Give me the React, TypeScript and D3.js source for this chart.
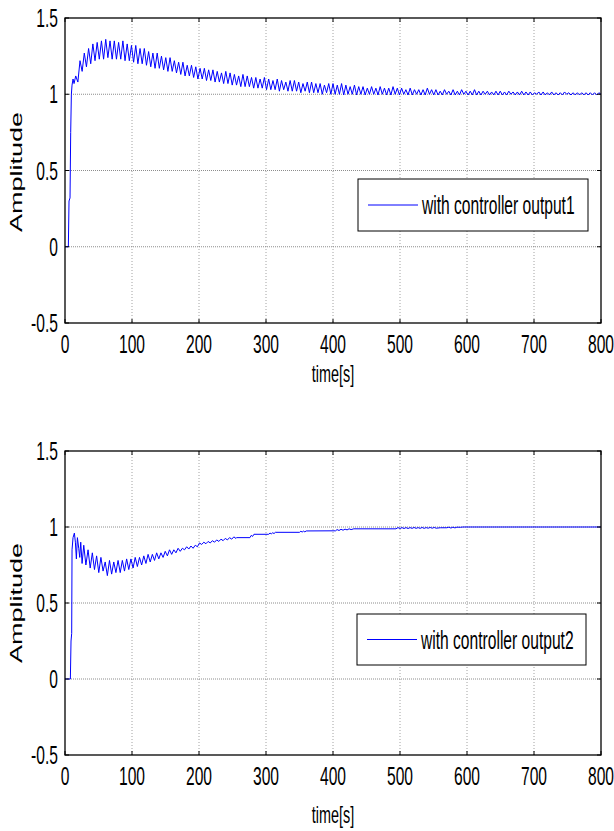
import { useEffect, useRef } from "react";
import * as d3 from "d3";

// axis ticks
const xTicks = [0, 100, 200, 300, 400, 500, 600, 700, 800];
const yTicks = [-0.5, 0, 0.5, 1, 1.5];

// output1: lead-in samples [t, amplitude]
const out1Start = [
  [0, 0], [5, 0], [6, 0.3], [7.5, 0.32], [8.5, 0.75], [9.5, 1.0],
  [10.5, 1.06], [12, 1.1], [13.5, 1.07],
];
// output1: oscillation, one peak + one trough per cycle
const out1T0 = 16;
const out1Period = 6.4;
const out1Peaks = [
  1.12, 1.22, 1.27, 1.3, 1.33, 1.34, 1.35, 1.36, 1.35, 1.35,
  1.34, 1.35, 1.33, 1.32, 1.32, 1.3, 1.3, 1.28, 1.27, 1.27,
  1.25, 1.24, 1.24, 1.22, 1.21, 1.21, 1.19, 1.19, 1.18, 1.17,
  1.17, 1.16, 1.16, 1.15, 1.14, 1.15, 1.14, 1.13, 1.12, 1.13,
  1.12, 1.11, 1.11, 1.1, 1.11, 1.1, 1.09, 1.1, 1.09, 1.08,
  1.09, 1.09, 1.08, 1.07, 1.08, 1.08, 1.07, 1.07, 1.06, 1.07,
  1.07, 1.06, 1.07, 1.06, 1.05, 1.06, 1.05, 1.05, 1.04, 1.05,
  1.04, 1.05, 1.04, 1.04, 1.05, 1.04, 1.04, 1.03, 1.04, 1.03,
  1.03, 1.03, 1.04, 1.03, 1.03, 1.02, 1.03, 1.02, 1.03, 1.02,
  1.03, 1.02, 1.02, 1.03, 1.02, 1.02, 1.02, 1.015, 1.02, 1.02,
  1.015, 1.02, 1.015, 1.015, 1.02, 1.015, 1.015, 1.01, 1.015, 1.015,
  1.01, 1.015, 1.01, 1.01, 1.015, 1.01, 1.01, 1.01, 1.01, 1.01,
  1.01, 1.01, 1.01,
];
const out1Troughs = [
  1.08, 1.15, 1.18, 1.2, 1.22, 1.23, 1.23, 1.24, 1.23, 1.23,
  1.23, 1.22, 1.22, 1.21, 1.2, 1.2, 1.19, 1.18, 1.17, 1.17,
  1.16, 1.15, 1.15, 1.14, 1.13, 1.12, 1.12, 1.11, 1.1, 1.1,
  1.09, 1.09, 1.08, 1.08, 1.07, 1.07, 1.06, 1.06, 1.05, 1.05,
  1.05, 1.04, 1.04, 1.04, 1.03, 1.03, 1.03, 1.02, 1.03, 1.02,
  1.02, 1.02, 1.01, 1.02, 1.01, 1.01, 1.01, 1.0, 1.01, 1.0,
  1.0, 1.0, 0.995, 1.0, 1.0, 0.995, 1.0, 0.995, 1.0, 1.0,
  0.995, 1.0, 0.995, 0.995, 1.0, 0.995, 1.0, 0.995, 0.995, 1.0,
  0.995, 0.995, 1.0, 0.995, 0.995, 0.995, 1.0, 0.995, 0.995, 0.995,
  1.0, 0.995, 0.995, 0.995, 0.995, 1.0, 0.995, 0.995, 0.995, 0.995,
  0.995, 1.0, 0.995, 0.995, 0.995, 0.995, 0.995, 1.0, 0.995, 0.995,
  0.995, 0.995, 0.995, 0.995, 1.0, 0.995, 0.995, 0.995, 0.995, 0.995,
  0.995, 0.995, 0.995,
];

// output2: lead-in samples
const out2Start = [
  [0, 0], [8, 0], [9, 0.25], [10, 0.3], [10.5, 0.85], [12, 0.93],
  [14, 0.96], [15.5, 0.9], [17, 0.79], [18.5, 0.93], [20.5, 0.86],
  [22, 0.8], [23.5, 0.9], [25.5, 0.76],
];
const out2T0 = 28;
const out2Period = 6.4;
const out2Peaks = [
  0.88, 0.85, 0.83, 0.81, 0.8, 0.77, 0.78, 0.77, 0.78, 0.78,
  0.79, 0.79, 0.8, 0.8, 0.81, 0.82, 0.82, 0.83, 0.83, 0.84,
  0.85, 0.85, 0.86, 0.86, 0.87, 0.875, 0.88, 0.895, 0.9, 0.905,
  0.91, 0.915, 0.92, 0.925, 0.93, 0.935,
];
const out2Troughs = [
  0.75, 0.73, 0.72, 0.7, 0.71, 0.68, 0.69, 0.7, 0.7, 0.71,
  0.72, 0.73, 0.74, 0.75, 0.76, 0.77, 0.78, 0.79, 0.8, 0.81,
  0.82, 0.83, 0.84, 0.85, 0.855, 0.86, 0.87, 0.885, 0.89, 0.895,
  0.9, 0.905, 0.91, 0.915, 0.92, 0.925,
];
// output2: slow settling tail with short bursts
const out2Tail = [
  [256, 0.93], [276, 0.93], [278, 0.945], [280, 0.938], [282, 0.952],
  [304, 0.952], [306, 0.96], [308, 0.955], [310, 0.962], [312, 0.957],
  [314, 0.965], [350, 0.965], [352, 0.972], [354, 0.967], [356, 0.973],
  [358, 0.968], [360, 0.974], [404, 0.975], [406, 0.983], [409, 0.977],
  [412, 0.985], [415, 0.979], [418, 0.986], [421, 0.981], [424, 0.988],
  [427, 0.983], [431, 0.988], [494, 0.988], [497, 0.996], [500, 0.99],
  [503, 0.996], [506, 0.99], [509, 0.996], [512, 0.99], [515, 0.996],
  [518, 0.991], [521, 0.997], [524, 0.991], [527, 0.996], [530, 0.991],
  [533, 0.997], [536, 0.991], [539, 0.996], [542, 0.992], [545, 0.997],
  [548, 0.992], [551, 0.997], [554, 0.992], [560, 0.995], [570, 0.995],
  [573, 0.999], [576, 0.993], [579, 0.999], [582, 0.994], [585, 0.999],
  [590, 0.998], [594, 1.0], [800, 1.0],
];

const buildSeries = (start, t0, period, peaks, troughs, tail) => {
  const pts = start.slice();
  peaks.forEach((p, k) => {
    pts.push([t0 + k * period, p]);
    pts.push([t0 + k * period + period / 2, troughs[k]]);
  });
  return pts.filter((d) => d[0] <= 800).concat(tail);
};

const FONT = "'Liberation Sans', Arial, sans-serif";
const SX = 0.6; // narrow look of the original lettering

const drawPanel = (svg, o) => {
  const x = d3.scaleLinear().domain([0, 800]).range([o.left, o.right]);
  const y = d3.scaleLinear().domain([-0.5, 1.5]).range([o.bottom, o.top]);
  const g = svg.append("g");

  // grid
  g.append("g")
    .selectAll("line")
    .data(xTicks.slice(1, -1))
    .join("line")
    .attr("x1", (d) => x(d))
    .attr("x2", (d) => x(d))
    .attr("y1", o.top)
    .attr("y2", o.bottom)
    .attr("stroke", "#8a8a8a")
    .attr("stroke-width", 0.8)
    .attr("stroke-dasharray", "1,2");
  g.append("g")
    .selectAll("line")
    .data(yTicks.slice(1, -1))
    .join("line")
    .attr("x1", o.left)
    .attr("x2", o.right)
    .attr("y1", (d) => y(d))
    .attr("y2", (d) => y(d))
    .attr("stroke", "#808080")
    .attr("stroke-width", 0.9)
    .attr("stroke-dasharray", "1,1");

  // curve
  g.append("path")
    .datum(o.data)
    .attr("fill", "none")
    .attr("stroke", "#0000ff")
    .attr("stroke-width", 1)
    .attr("stroke-linejoin", "round")
    .attr("d", d3.line().x((d) => x(d[0])).y((d) => y(d[1])));

  // box + inward ticks
  g.append("rect")
    .attr("x", o.left)
    .attr("y", o.top)
    .attr("width", o.right - o.left)
    .attr("height", o.bottom - o.top)
    .attr("fill", "none")
    .attr("stroke", "#000")
    .attr("stroke-width", 1.3);
  const tk = g.append("g").attr("stroke", "#000").attr("stroke-width", 1);
  xTicks.forEach((t) => {
    tk.append("line").attr("x1", x(t)).attr("x2", x(t)).attr("y1", o.bottom).attr("y2", o.bottom - 4);
    tk.append("line").attr("x1", x(t)).attr("x2", x(t)).attr("y1", o.top).attr("y2", o.top + 4);
  });
  yTicks.forEach((t) => {
    tk.append("line").attr("x1", o.left).attr("x2", o.left + 4).attr("y1", y(t)).attr("y2", y(t));
    tk.append("line").attr("x1", o.right).attr("x2", o.right - 4).attr("y1", y(t)).attr("y2", y(t));
  });

  // tick labels
  g.append("g")
    .attr("font-family", FONT)
    .attr("font-size", 26)
    .attr("text-anchor", "middle")
    .selectAll("text")
    .data(xTicks)
    .join("text")
    .attr("transform", (d) => `translate(${x(d)},${o.bottom + 30}) scale(${SX},1)`)
    .text((d) => d);
  g.append("g")
    .attr("font-family", FONT)
    .attr("font-size", 26)
    .attr("text-anchor", "end")
    .selectAll("text")
    .data(yTicks)
    .join("text")
    .attr("transform", (d) => `translate(${o.left - 7},${y(d) + 9}) scale(${SX},1)`)
    .text((d) => d);

  // axis titles
  g.append("text")
    .attr("font-family", FONT)
    .attr("font-size", 24)
    .attr("text-anchor", "middle")
    .attr("transform", `translate(${x(400)},${o.xLabelY}) scale(${SX},1)`)
    .text("time[s]");
  g.append("text")
    .attr("font-family", FONT)
    .attr("font-size", 27)
    .attr("text-anchor", "middle")
    .attr("transform", `translate(22,${o.yLabelY}) scale(${SX},1) rotate(-90)`)
    .text("Amplitude");

  // legend
  const lg = g.append("g");
  lg.append("rect")
    .attr("x", o.legend.x)
    .attr("y", o.legend.y)
    .attr("width", o.legend.w)
    .attr("height", o.legend.h)
    .attr("fill", "#fff")
    .attr("stroke", "#000")
    .attr("stroke-width", 1);
  const ly = o.legend.y + o.legend.h / 2;
  lg.append("line")
    .attr("x1", o.legend.x + 10)
    .attr("x2", o.legend.x + 60)
    .attr("y1", ly)
    .attr("y2", ly)
    .attr("stroke", "#0000ff")
    .attr("stroke-width", 1);
  lg.append("text")
    .attr("font-family", FONT)
    .attr("font-size", 26)
    .attr("transform", `translate(${o.legend.x + 64},${ly + 9}) scale(${SX},1)`)
    .text(o.label);
};

const App = () => {
  const ref = useRef(null);

  useEffect(() => {
    const svg = d3.select(ref.current);
    svg.selectAll("*").remove();

    drawPanel(svg, {
      left: 65, right: 601, top: 18, bottom: 323,
      xLabelY: 382, yLabelY: 172,
      legend: { x: 358, y: 179, w: 230, h: 52 },
      label: "with controller output1",
      data: buildSeries(out1Start, out1T0, out1Period, out1Peaks, out1Troughs, [[800, 1.0]]),
    });
    drawPanel(svg, {
      left: 65, right: 601, top: 451, bottom: 755,
      xLabelY: 823, yLabelY: 603,
      legend: { x: 357, y: 614, w: 229, h: 51 },
      label: "with controller output2",
      data: buildSeries(out2Start, out2T0, out2Period, out2Peaks, out2Troughs, out2Tail),
    });
  }, []);

  return (
    <svg
      ref={ref}
      width={614}
      height={831}
      style={{ position: "absolute", left: 0, top: 0, background: "#fff" }}
    />
  );
};

export default App;
